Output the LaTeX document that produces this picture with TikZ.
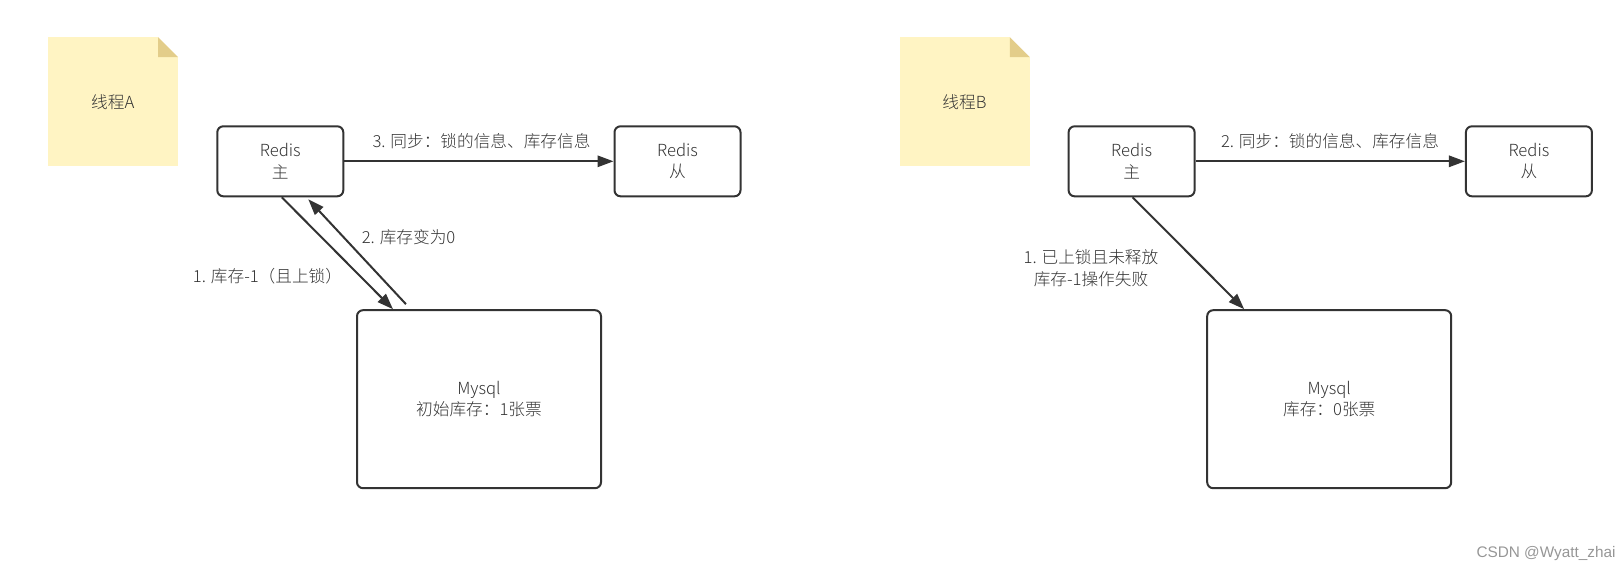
\documentclass[tikz,border=0pt]{standalone}
\usepackage{fontspec}
\setmainfont{Noto Sans CJK SC}[UprightFont={* Light}]
\newfontfamily\markfont{Liberation Sans}
\usepackage{xcolor}
\usepackage{tikz}
\usetikzlibrary{arrows.meta,calc}
\definecolor{edgegray}{RGB}{51,51,51}
\definecolor{notefill}{RGB}{255,244,195}
\definecolor{notefold}{RGB}{227,205,138}
\definecolor{markgray}{RGB}{150,150,150}

\begin{document}
\begin{tikzpicture}[x=0.75pt, y=-0.75pt,
  font=\fontsize{12.5pt}{16pt}\selectfont, text=edgegray,
  box/.style={draw=edgegray, line width=1.5pt, rounded corners=4.5pt, minimum width=94.5pt, minimum height=52.5pt, align=center, inner sep=0pt},
  dbbox/.style={box, minimum width=183pt, minimum height=133.5pt},
  note/.style={fill=notefill, minimum width=97.5pt, minimum height=96.75pt, inner sep=0pt},
  lab/.style={align=center, inner sep=0pt},
  arrow/.style={-{Triangle[length=12pt, width=8.5pt]}, line width=1.5pt, draw=edgegray}
]
\useasboundingbox (0,0) rectangle (1622,572);

% thread A
\node[note] (noteA) at (112.8,101.9) {线程A};
\fill[white] ($(noteA.north east)+(-20,0)$) -- (noteA.north east) -- ++(0,20) -- cycle;
\fill[notefold] ($(noteA.north east)+(-20,0)$) -- ++(0,20) -- ++(20,0) -- cycle;
\node[box] (redisA) at (280.3,161.3) {Redis\\主};
\node[box] (slaveA) at (677.5,161.3) {Redis\\从};
\node[dbbox] (mysqlA) at (479,399.2) {Mysql\\初始库存：1张票};
\draw[arrow] (redisA.east) -- (slaveA.west);
\draw[arrow] ($(redisA.south)+(1.5,0)$) -- ($(mysqlA.north west)+(37,0)$);
\draw[arrow] ($(mysqlA.north west)+(50,-5)$) -- ($(redisA.south)+(28,2)$);
\node[lab] (syncA) at (481.5,141.5) {3. 同步：锁的信息、库存信息};
\node[lab] (zeroA) at (408.6,237.5) {2. 库存变为0};
\node[lab] (decA) at (267.5,276.5) {1. 库存-1（且上锁）};

% thread B
\node[note] (noteB) at (964.5,101.9) {线程B};
\fill[white] ($(noteB.north east)+(-20,0)$) -- (noteB.north east) -- ++(0,20) -- cycle;
\fill[notefold] ($(noteB.north east)+(-20,0)$) -- ++(0,20) -- ++(20,0) -- cycle;
\node[box] (redisB) at (1131.6,161.3) {Redis\\主};
\node[box] (slaveB) at (1528.9,161.3) {Redis\\从};
\node[dbbox] (mysqlB) at (1329.2,399.2) {Mysql\\库存：0张票};
\draw[arrow] (redisB.east) -- (slaveB.west);
\draw[arrow] ($(redisB.south)+(1,0)$) -- ($(mysqlB.north west)+(38,0)$);
\node[lab] (syncB) at (1330,141.5) {2. 同步：锁的信息、库存信息};
\node[lab] (failB) at (1091,268) {1. 已上锁且未释放\\库存-1操作失败};

\node[lab, font=\markfont\fontsize{11.5pt}{13pt}\selectfont, text=markgray] (mark) at (1546,554) {CSDN @Wyatt\_zhai};
\end{tikzpicture}
\end{document}
